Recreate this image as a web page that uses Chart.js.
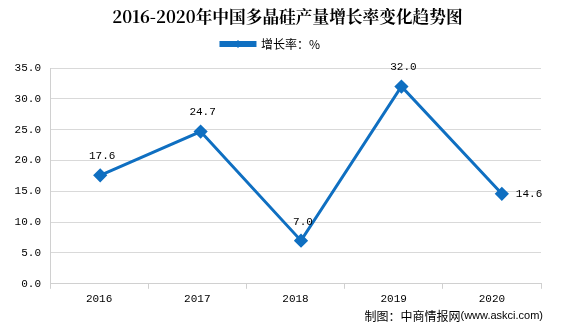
<!DOCTYPE html>
<html>
<head>
<meta charset="utf-8">
<script src="https://cdn.jsdelivr.net/npm/chart.js@4"></script>
<style>
  body { margin: 0; background: #fff; }
  #wrap { width: 575px; height: 330px; position: relative; }
</style>
</head>
<body>
<div id="wrap"><canvas id="growthChart" width="575" height="330"></canvas></div>
<script>
const years = ["2016", "2017", "2018", "2019", "2020"];
const growthRate = [17.6, 24.7, 7.0, 32.0, 14.6];
const yTicks = [0, 5, 10, 15, 20, 25, 30, 35];
const labelSide = ["top", "top", "top", "top", "right"];

const lineColor = "#0f6fc1";
const monoFont = "'Liberation Mono', 'DejaVu Sans Mono', monospace";

function drawDiamond(c, x, y, r) {
    c.beginPath();
    c.moveTo(x, y - r);
    c.lineTo(x + r, y);
    c.lineTo(x, y + r);
    c.lineTo(x - r, y);
    c.closePath();
    c.fill();
}

// value labels, legend marker and footer credit
const labelPlugin = {
    id: 'labelPlugin',
    afterLayout(chart) {
        // legend sits closer to the title than chart.js spacing allows
        chart.legend.top -= 8;
        // title is centred on the whole canvas, not the padded box
        chart.titleBlock.left += 17;
        chart.titleBlock.right += 17;
    },
    afterDraw(chart) {
        const c = chart.ctx;
        const meta = chart.getDatasetMeta(0);
        c.save();
        c.font = "11px " + monoFont;
        c.fillStyle = "#000";
        c.textBaseline = "middle";
        meta.data.forEach(function(pt, i) {
            const txt = growthRate[i].toFixed(1);
            if (labelSide[i] === "right") {
                c.textAlign = "left";
                c.fillText(txt, pt.x + 14, pt.y);
            } else {
                c.textAlign = "center";
                c.fillText(txt, pt.x + 2, pt.y - 19);
            }
        });

        const hb = chart.legend.legendHitBoxes[0];
        if (hb) {
            c.fillStyle = lineColor;
            drawDiamond(c, hb.left + 17, hb.top + hb.height / 2, 4);
        }

        c.fillStyle = "#000";
        c.textAlign = "right";
        const tail = "(www.askci.com)";
        c.font = "11px 'Liberation Sans', sans-serif";
        const tw = c.measureText(tail).width;
        c.fillText(tail, 543, 316);
        c.font = "12px 'Noto Sans CJK SC', sans-serif";
        c.fillText("制图：中商情报网", 543 - tw, 316);
        c.restore();
    }
};

const ctx = document.getElementById('growthChart').getContext('2d');
const growthChart = new Chart(ctx, {
    type: 'line',
    data: {
        labels: years,
        datasets: [{
            label: '增长率：%',
            data: growthRate.map(function(v, i) { return { x: i, y: v }; }),
            xAxisID: 'xLine',
            borderColor: lineColor,
            backgroundColor: lineColor,
            borderWidth: 3,
            pointStyle: 'rectRot',
            pointRadius: 5,
            pointHoverRadius: 5,
            tension: 0
        }]
    },
    options: {
        responsive: false,
        animation: false,
        layout: { padding: { left: 0, right: 34, top: 7, bottom: 20 } },
        plugins: {
            title: {
                display: true,
                text: '2016-2020年中国多晶硅产量增长率变化趋势图',
                font: { family: "'Noto Serif CJK SC', 'Noto Sans CJK SC', serif", size: 16.7, weight: 'bold' },
                color: '#000',
                padding: { top: 0, bottom: 8 }
            },
            legend: {
                display: true,
                position: 'top',
                labels: {
                    font: { family: "'Noto Sans CJK SC', sans-serif", size: 12 },
                    color: '#000',
                    boxWidth: 34,
                    boxHeight: 3,
                    padding: 11
                }
            },
            tooltip: { enabled: false }
        },
        scales: {
            x: {
                type: 'category',
                offset: true,
                grid: {
                    display: true,
                    drawOnChartArea: false,
                    offset: true,
                    tickLength: 5,
                    color: '#d0d0d0'
                },
                border: { color: '#d0d0d0' },
                ticks: {
                    font: { family: monoFont, size: 11 },
                    color: '#000',
                    padding: 4
                }
            },
            // the plotted line sits slightly wider than the category labels
            xLine: {
                type: 'linear',
                display: false,
                min: -0.5,
                max: 4.39
            },
            y: {
                min: 0,
                max: 35,
                afterBuildTicks: function(axis) {
                    axis.ticks = yTicks.map(function(v) { return { value: v }; });
                },
                afterFit: function(axis) { axis.width = 50; },
                grid: { color: '#d9d9d9', drawTicks: false },
                border: { color: '#d0d0d0' },
                ticks: {
                    font: { family: monoFont, size: 11 },
                    color: '#000',
                    padding: 9,
                    callback: function(v) { return Number(v).toFixed(1); }
                }
            }
        }
    },
    plugins: [labelPlugin]
});
</script>
</body>
</html>
